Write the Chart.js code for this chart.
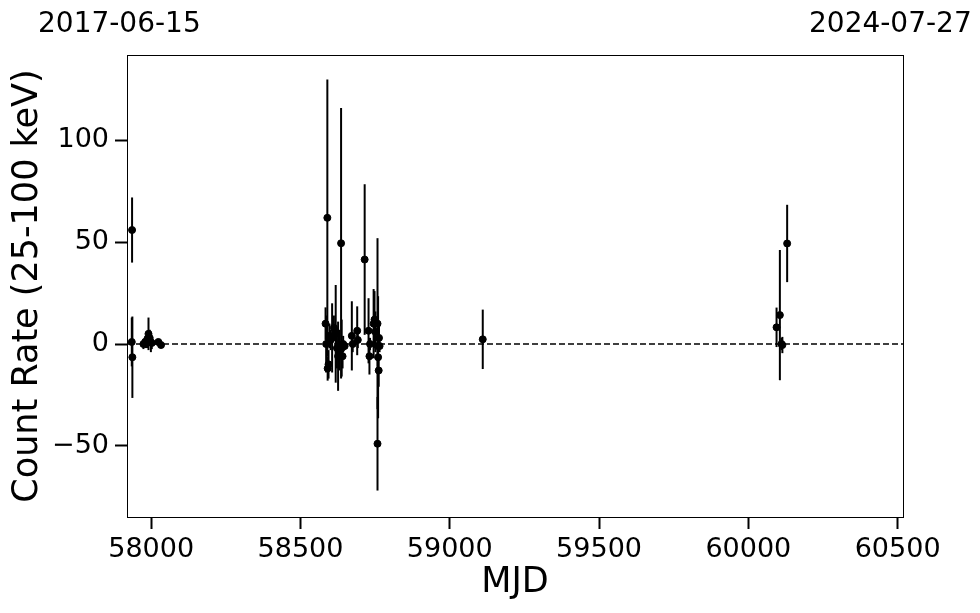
<!DOCTYPE html>
<html>
<head>
<meta charset="utf-8">
<script src="https://cdn.jsdelivr.net/npm/chart.js@4.4.1/dist/chart.umd.min.js"></script>
<style>
  body { margin: 0; background: #fff; }
  #wrap { position: relative; width: 980px; height: 613px; }
  .date { position: absolute; top: 6px; font-family: "DejaVu Sans", sans-serif; font-size: 28px; line-height: 34px; color: #000; }
</style>
</head>
<body>
<div id="wrap">
  <canvas id="lcChart" width="980" height="613"></canvas>
  <div class="date" style="left:38px">2017-06-15</div>
  <div class="date" style="left:809px">2024-07-27</div>
</div>
<script>
// light curve points
var mjd = [57936, 57937, 57935, 57974, 57980, 57986, 57991, 57995, 57999, 58002, 58024, 58033,
  58584, 58586, 58590, 58591, 58594, 58597, 58601, 58606, 58612, 58618, 58622, 58626, 58630,
  58636, 58638, 58641, 58643, 58648, 58672, 58675, 58690, 58692, 58715, 58728, 58731, 58733,
  58745, 58748, 58751, 58758, 58758, 58759, 58760, 58762, 58763, 58765,
  59110.5,
  60094.5, 60105.6, 60111, 60114, 60130];
var rate = [56, -6.5, 1, 0, 1, 2, 5, 3, 1, 0.5, 1, -0.5,
  10, 0, 62, -12, -10, 4, 2, 3, 8, 5, -2, -6, -3,
  49.5, -2, -6, 0, -1, 4, 0, 6.5, 2, 41.5, 6.5, -6, 0,
  10, 12, 6, -49, 10, -1, -6.5, -13, 3, -1,
  2.3,
  8.2, 14.2, 0, -0.5, 49.4];
var rateErr = [16, 20, 12, 2.5, 3, 4, 8, 4, 5, 3, 1.5, 1,
  8, 14, 68, 6, 7, 6, 5, 17, 6, 24, 10, 17, 10,
  66.5, 14, 6, 4, 2, 17, 4, 12, 4, 37, 16, 9, 3,
  17, 14, 10, 23, 42, 10, 30, 8, 6, 3,
  14.6,
  9.7, 32, 3, 4, 19];

var xTicks = [58000, 58500, 59000, 59500, 60000, 60500];
var yTicks = [-50, 0, 50, 100];
var xRange = [57919, 60518];   // 2017-06-15 .. 2024-07-27
var yRange = [-85, 142];

var points = mjd.map(function(m, i) { return { x: m, y: rate[i] }; });

// vertical error bars through the scales
var errorBars = {
    id: 'errorBars',
    beforeDatasetsDraw: function(chart) {
        var ctx = chart.ctx, xs = chart.scales.x, ys = chart.scales.y, a = chart.chartArea;
        ctx.save();
        ctx.beginPath();
        ctx.rect(a.left, a.top, a.right - a.left, a.bottom - a.top);
        ctx.clip();
        ctx.strokeStyle = '#000';
        ctx.lineWidth = 2;
        for (var i = 0; i < mjd.length; i++) {
            var px = xs.getPixelForValue(mjd[i]);
            ctx.beginPath();
            ctx.moveTo(px, ys.getPixelForValue(rate[i] - rateErr[i]));
            ctx.lineTo(px, ys.getPixelForValue(rate[i] + rateErr[i]));
            ctx.stroke();
        }
        ctx.restore();
    }
};

// box around the plot
var frame = {
    id: 'frame',
    afterDraw: function(chart) {
        var ctx = chart.ctx, a = chart.chartArea;
        ctx.save();
        ctx.strokeStyle = '#000';
        ctx.lineWidth = 1;
        ctx.strokeRect(a.left + 0.5, a.top + 0.5, a.right - a.left, a.bottom - a.top);
        ctx.restore();
    }
};

var tickFont = { family: 'DejaVu Sans', size: 27 };
var titleFont = { family: 'DejaVu Sans', size: 35, lineHeight: 1.2 };

new Chart(document.getElementById('lcChart'), {
    type: 'scatter',
    data: {
        datasets: [{
            type: 'line',
            data: [{ x: xRange[0], y: 0 }, { x: xRange[1], y: 0 }],
            borderColor: '#000',
            borderWidth: 1.5,
            borderDash: [6, 3],
            pointRadius: 0,
            fill: false
        }, {
            data: points,
            backgroundColor: '#000',
            borderColor: '#000',
            pointRadius: 3.5,
            pointHoverRadius: 3.5
        }]
    },
    options: {
        responsive: false,
        animation: false,
        events: [],
        layout: { padding: { top: 55, right: 77, left: 0, bottom: 0 } },
        plugins: {
            legend: { display: false },
            tooltip: { enabled: false }
        },
        scales: {
            x: {
                type: 'linear',
                min: xRange[0],
                max: xRange[1],
                afterBuildTicks: function(axis) {
                    axis.ticks = xTicks.map(function(v) { return { value: v }; });
                },
                afterFit: function(axis) { axis.height = 96; },
                ticks: {
                    color: '#000',
                    font: tickFont,
                    padding: 5,
                    maxRotation: 0,
                    callback: function(v) { return String(v); }
                },
                grid: {
                    drawOnChartArea: false,
                    drawTicks: true,
                    tickLength: 12,
                    tickWidth: 2,
                    tickColor: '#000'
                },
                border: { display: true, color: '#000', width: 1 },
                title: {
                    display: true,
                    text: 'MJD',
                    color: '#000',
                    font: titleFont,
                    padding: { top: 0, bottom: 9 }
                }
            },
            y: {
                type: 'linear',
                min: yRange[0],
                max: yRange[1],
                afterBuildTicks: function(axis) {
                    axis.ticks = yTicks.map(function(v) { return { value: v }; });
                },
                afterFit: function(axis) { axis.width = 127; },
                ticks: {
                    color: '#000',
                    font: tickFont,
                    padding: 6,
                    callback: function(v) { return v < 0 ? '\u2212' + Math.abs(v) : String(v); }
                },
                grid: {
                    drawOnChartArea: false,
                    drawTicks: true,
                    tickLength: 12,
                    tickWidth: 2,
                    tickColor: '#000'
                },
                border: { display: true, color: '#000', width: 1 },
                title: {
                    display: true,
                    text: 'Count Rate (25-100 keV)',
                    color: '#000',
                    font: titleFont,
                    padding: { top: 7, bottom: 0 }
                }
            }
        }
    },
    plugins: [errorBars, frame]
});
</script>
</body>
</html>
